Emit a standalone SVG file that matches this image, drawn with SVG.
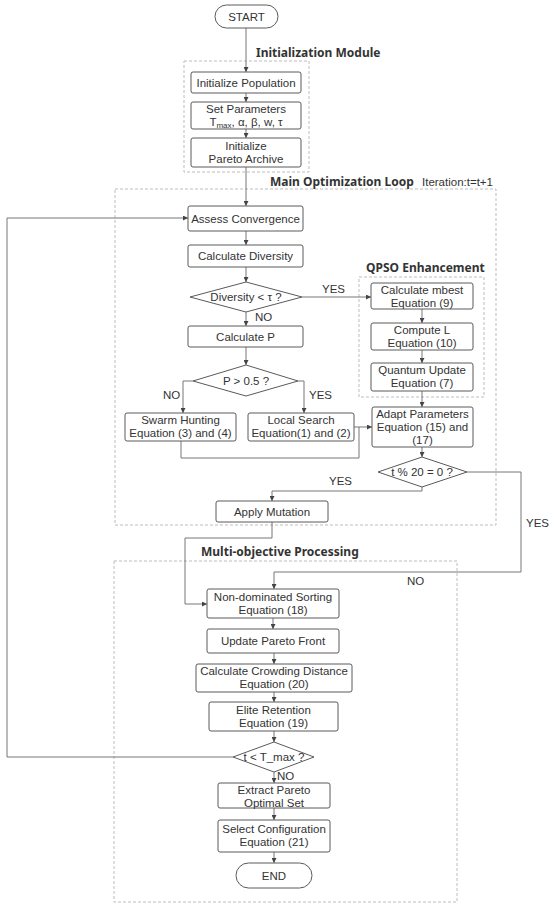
<svg xmlns="http://www.w3.org/2000/svg" width="550" height="905" viewBox="0 0 550 905">
<defs>
<marker id="arr" viewBox="0 0 6 6" refX="6" refY="3" markerWidth="5" markerHeight="5" orient="auto" markerUnits="userSpaceOnUse">
<path d="M0,0 L6,3 L0,6 z" fill="#444"/>
</marker>
<style>
.bg{fill:#ffffff}
.box{fill:#ffffff;stroke:#5a5a5a;stroke-width:1}
.grp{fill:none;stroke:#bdbdbd;stroke-width:1;stroke-dasharray:3,2}
.ln{fill:none;stroke:#777;stroke-width:1}
.la{fill:none;stroke:#777;stroke-width:1;marker-end:url(#arr)}
.t{font-family:"Liberation Sans",Arial,sans-serif;font-size:11.5px;fill:#333;text-anchor:middle}
.l{font-family:"Liberation Sans",Arial,sans-serif;font-size:11.5px;fill:#333}
.h{font-family:"Noto Sans","Open Sans","DejaVu Sans",sans-serif;font-size:12px;font-weight:bold;fill:#333}
</style>
</defs>
<rect class="bg" x="0" y="0" width="550" height="905"/>

<g id="groups">
<rect class="grp" x="184" y="61" width="125" height="111"/>
<rect class="grp" x="115" y="189" width="381" height="336"/>
<rect class="grp" x="359" y="277" width="125" height="120"/>
<rect class="grp" x="114" y="561" width="343" height="341"/>
<text class="h" x="256" y="57">Initialization Module</text>
<text class="h" x="270" y="186">Main Optimization Loop</text>
<text class="l" x="422" y="186">Iteration:t=t+1</text>
<text class="h" x="366" y="272">QPSO Enhancement</text>
<text class="h" x="201" y="556">Multi-objective Processing</text>
</g>

<g id="connectors">
<path class="la" d="M246,28 V72"/>
<path class="la" d="M246,93 V102"/>
<path class="la" d="M246,129 V138"/>
<path class="la" d="M246,167 V206"/>
<path class="la" d="M246,231 V245"/>
<path class="la" d="M246,267 V282"/>
<path class="la" d="M246,312 V326"/>
<path class="la" d="M302,297 H371"/>
<path class="la" d="M246,347 V365"/>
<path class="la" d="M193,381 H183 V413"/>
<path class="la" d="M298,381 H304 V413"/>
<path class="la" d="M354,427 H372"/>
<path class="ln" d="M181,441 V458 H359 V427"/>
<path class="la" d="M422,309 V323"/>
<path class="la" d="M422,350 V363"/>
<path class="la" d="M422,391 V407"/>
<path class="la" d="M422,447 V457"/>
<path class="la" d="M422,487 V491 H272 V501"/>
<path class="la" d="M467,472 H521 V572 H274 V589"/>
<path class="la" d="M272,522 V538 H185 V604 H207"/>
<path class="la" d="M273,618 V629"/>
<path class="la" d="M274,653 V664"/>
<path class="la" d="M274,692 V702"/>
<path class="la" d="M274,731 V742"/>
<path class="la" d="M233,757 H7 V218 H188"/>
<path class="la" d="M274,772 V783"/>
<path class="la" d="M274,808 V820"/>
<path class="la" d="M274,852 V863"/>
<text class="l" x="255" y="321">NO</text>
<text class="l" x="322" y="293">YES</text>
<text class="l" x="163" y="399">NO</text>
<text class="l" x="309" y="399">YES</text>
<text class="l" x="329" y="485">YES</text>
<text class="l" x="526" y="527">YES</text>
<text class="l" x="407" y="585">NO</text>
<text class="l" x="277" y="780">NO</text>
</g>

<g id="start"><rect class="box" x="215" y="5" width="63" height="23" rx="11.5"/><text class="t" x="246.5" y="20.5">START</text></g>
<g id="initPop"><rect class="box" x="191" y="72" width="110" height="21" rx="2"/><text class="t" x="246" y="86.5">Initialize Population</text></g>
<g id="setParams"><rect class="box" x="191" y="102" width="110" height="27" rx="2"/><text class="t" x="246" y="113">Set Parameters</text><text class="t" x="246" y="126">T<tspan font-size="8" dy="2">max</tspan><tspan dy="-2">, α, β, w, τ</tspan></text></g>
<g id="initArchive"><rect class="box" x="191" y="138" width="110" height="29" rx="2"/><text class="t" x="246" y="150">Initialize</text><text class="t" x="246" y="163">Pareto Archive</text></g>
<g id="assess"><rect class="box" x="188" y="206" width="115" height="25" rx="2"/><text class="t" x="245.5" y="222.5">Assess Convergence</text></g>
<g id="calcDiv"><rect class="box" x="188" y="245" width="115" height="22" rx="2"/><text class="t" x="245.5" y="260">Calculate Diversity</text></g>
<g id="divCheck"><polygon class="box" points="190,297 246,282 302,297 246,312"/><text class="t" x="246" y="301">Diversity &lt; τ ?</text></g>
<g id="calcP"><rect class="box" x="188" y="326" width="115" height="21" rx="2"/><text class="t" x="245.5" y="340.5">Calculate P</text></g>
<g id="pCheck"><polygon class="box" points="193,381 246,365 298,381 246,396"/><text class="t" x="246" y="385">P &gt; 0.5 ?</text></g>
<g id="swarm"><rect class="box" x="125" y="413" width="111" height="28" rx="2"/><text class="t" x="180.5" y="424">Swarm Hunting</text><text class="t" x="180.5" y="437">Equation (3) and (4)</text></g>
<g id="local"><rect class="box" x="248" y="413" width="106" height="28" rx="2"/><text class="t" x="301" y="424">Local Search</text><text class="t" x="301" y="437">Equation(1) and (2)</text></g>
<g id="mbest"><rect class="box" x="371" y="283" width="102" height="26" rx="2"/><text class="t" x="422" y="293.5">Calculate mbest</text><text class="t" x="422" y="306.5">Equation (9)</text></g>
<g id="computeL"><rect class="box" x="371" y="323" width="102" height="27" rx="2"/><text class="t" x="422" y="334">Compute L</text><text class="t" x="422" y="347">Equation (10)</text></g>
<g id="quantum"><rect class="box" x="371" y="363" width="102" height="28" rx="2"/><text class="t" x="422" y="374">Quantum Update</text><text class="t" x="422" y="387">Equation (7)</text></g>
<g id="adapt"><rect class="box" x="372" y="407" width="101" height="40" rx="2"/><text class="t" x="422.5" y="418">Adapt Parameters</text><text class="t" x="422.5" y="431">Equation (15) and</text><text class="t" x="422.5" y="444">(17)</text></g>
<g id="tCheck"><polygon class="box" points="378,472 422,457 467,472 422,487"/><text class="t" x="422" y="476">t % 20 = 0 ?</text></g>
<g id="mutation"><rect class="box" x="216" y="501" width="112" height="21" rx="2"/><text class="t" x="272" y="515.5">Apply Mutation</text></g>
<g id="nondom"><rect class="box" x="207" y="589" width="132" height="29" rx="2"/><text class="t" x="273" y="601">Non-dominated Sorting</text><text class="t" x="273" y="614">Equation (18)</text></g>
<g id="update"><rect class="box" x="207" y="629" width="132" height="24" rx="2"/><text class="t" x="273" y="645">Update Pareto Front</text></g>
<g id="crowding"><rect class="box" x="196" y="664" width="156" height="28" rx="2"/><text class="t" x="274" y="675">Calculate Crowding Distance</text><text class="t" x="274" y="688">Equation (20)</text></g>
<g id="elite"><rect class="box" x="209" y="702" width="129" height="29" rx="2"/><text class="t" x="273.5" y="714">Elite Retention</text><text class="t" x="273.5" y="727">Equation (19)</text></g>
<g id="tmaxCheck"><polygon class="box" points="233,757 274,742 314,757 274,772"/><text class="t" x="274" y="761">t &lt; T_max ?</text></g>
<g id="extract"><rect class="box" x="218" y="783" width="112" height="25" rx="2"/><text class="t" x="274" y="793.5">Extract Pareto</text><text class="t" x="274" y="806.5">Optimal Set</text></g>
<g id="select"><rect class="box" x="218" y="820" width="112" height="32" rx="2"/><text class="t" x="274" y="833">Select Configuration</text><text class="t" x="274" y="846">Equation (21)</text></g>
<g id="end"><rect class="box" x="236" y="863" width="76" height="25" rx="12.5"/><text class="t" x="274" y="879.5">END</text></g>
</svg>
